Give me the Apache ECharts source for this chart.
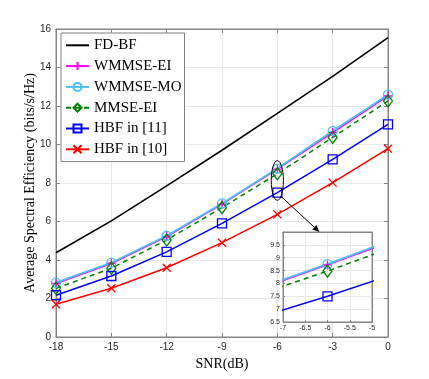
<!DOCTYPE html>
<html>
<head>
    <meta charset="utf-8">
    <title>ECharts</title>
    <script src="https://cdn.jsdelivr.net/npm/echarts@6/dist/echarts.min.js"></script>
</head>
<body style="margin:0;background:#fff">
    <div id="main" style="width: 429px;height:379px;"></div>
    <script type="text/javascript">
        // data
        var snr = [-18, -15, -12, -9, -6, -3, 0];
        var fdbf = [4.38, 6.03, 7.85, 9.7, 11.62, 13.54, 15.55];
        var wmmseEI = [2.78, 3.82, 5.22, 6.9, 8.72, 10.62, 12.52];
        var wmmseMO = [2.82, 3.86, 5.26, 6.94, 8.75, 10.7, 12.59];
        var mmseEI = [2.53, 3.57, 5.04, 6.72, 8.48, 10.37, 12.26];
        var hbf11 = [2.17, 3.17, 4.42, 5.9, 7.5, 9.23, 11.05];
        var hbf10 = [1.7, 2.53, 3.6, 4.9, 6.37, 8.02, 9.78];

        var names = ['FD-BF', 'WMMSE-EI', 'WMMSE-MO', 'MMSE-EI', 'HBF in [11]', 'HBF in [10]'];
        var colors = ['#000000', '#ff00ff', '#4dbeee', '#008000', '#0000ff', '#ff0000'];

        var plusSym = 'path://M5,0 L5,10 M0,5 L10,5';
        var crossSym = 'path://M0,0 L10,10 M10,0 L0,10';

        function pairs(ys) {
            var res = [];
            for (var i = 0; i < snr.length; i++) {
                res.push([snr[i], ys[i]]);
            }
            return res;
        }

        var myChart = echarts.init(document.getElementById('main'));

        var serif = "'Liberation Serif', 'DejaVu Serif', serif";
        var sans = "'Liberation Sans', Arial, sans-serif";

        function mk(name, ys, color, sym, size, width, dashed, inset) {
            return {
                type: 'line',
                name: name,
                data: pairs(ys),
                xAxisIndex: inset ? 2 : 0,
                yAxisIndex: inset ? 2 : 0,
                z: inset ? 8 : 2,
                symbol: sym,
                symbolSize: size,
                showSymbol: sym !== 'none',
                clip: true,
                animation: false,
                lineStyle: { color: color, width: width, type: dashed ? [5, 4] : 'solid' },
                itemStyle: { color: 'none', borderColor: sym === 'none' ? 'none' : color, borderWidth: 1.3 },
                emphasis: { disabled: true }
            };
        }

        function seriesSet(inset) {
            var s = [];
            if (!inset) s.push(mk(names[0], fdbf, colors[0], 'none', 0, 1.6, false, inset));
            s.push(mk(names[1], wmmseEI, colors[1], plusSym, 9, 1.5, false, inset));
            s.push(mk(names[2], wmmseMO, colors[2], 'circle', 9, 1.8, false, inset));
            s.push(mk(names[3], mmseEI, colors[3], 'diamond', [9, 12], 1.5, true, inset));
            s.push(mk(names[4], hbf11, colors[4], 'rect', 9, 1.5, false, inset));
            if (!inset) s.push(mk(names[5], hbf10, colors[5], crossSym, 8, 1.5, false, inset));
            return s;
        }

        var axisLine = { show: true, onZero: false, lineStyle: { color: '#858585', width: 1 } };
        var tickIn = { show: true, inside: true, length: 4, lineStyle: { color: '#858585' } };
        var tickSmall = { show: true, inside: true, length: 2, lineStyle: { color: '#858585' } };
        var split = { show: true, lineStyle: { color: '#e8e8e8', width: 1 } };

        var option = {
            backgroundColor: '#ffffff',
            animation: false,
            grid: [
                { left: 56, top: 29, width: 332, height: 308, show: true, borderColor: '#858585', borderWidth: 1, backgroundColor: 'transparent' },
                { left: 283, top: 232, width: 89, height: 90, show: true, backgroundColor: '#ffffff', borderColor: '#858585', borderWidth: 1, z: 5 }
            ],
            legend: {
                data: names,
                orient: 'vertical',
                left: 61,
                top: 33,
                padding: [2, 3, 2, 4],
                itemGap: 0.2,
                itemWidth: 23,
                itemHeight: 10,
                backgroundColor: '#ffffff',
                borderColor: '#808080',
                borderWidth: 1,
                borderRadius: 0,
                selectedMode: false,
                textStyle: { fontFamily: serif, fontSize: 15, color: '#000', lineHeight: 20.6 }
            },
            xAxis: [
                {
                    type: 'value', gridIndex: 0, min: -18, max: 0, interval: 3,
                    name: 'SNR(dB)', nameLocation: 'middle', nameGap: 18,
                    nameTextStyle: { fontFamily: serif, fontSize: 14, color: '#000' },
                    axisLine: axisLine, axisTick: tickIn, splitLine: split,
                    axisLabel: { fontFamily: sans, fontSize: 10, color: '#262626', margin: 5 }
                },
                {
                    type: 'value', gridIndex: 0, position: 'top', min: -18, max: 0, interval: 3,
                    axisLine: axisLine, axisTick: tickIn, splitLine: { show: false }, axisLabel: { show: false }
                },
                {
                    type: 'value', gridIndex: 1, min: -7, max: -5, interval: 0.5, z: 6,
                    axisLine: axisLine, axisTick: tickSmall, splitLine: split,
                    axisLabel: { fontFamily: sans, fontSize: 7, color: '#262626', margin: 3 }
                },
                {
                    type: 'value', gridIndex: 1, position: 'top', min: -7, max: -5, interval: 0.5, z: 6,
                    axisLine: axisLine, axisTick: { show: false }, splitLine: { show: false }, axisLabel: { show: false }
                }
            ],
            yAxis: [
                {
                    type: 'value', gridIndex: 0, min: 0, max: 16, interval: 2,
                    name: 'Average Spectral Efficiency (bits/s/Hz)', nameLocation: 'middle', nameGap: 19,
                    nameMoveOverlap: false,
                    nameTextStyle: { fontFamily: serif, fontSize: 14, color: '#000' },
                    axisLine: axisLine, axisTick: tickIn, splitLine: split,
                    axisLabel: { fontFamily: sans, fontSize: 10, color: '#262626', margin: 5 }
                },
                {
                    type: 'value', gridIndex: 0, position: 'right', min: 0, max: 16, interval: 2,
                    axisLine: axisLine, axisTick: tickIn, splitLine: { show: false }, axisLabel: { show: false }
                },
                {
                    type: 'value', gridIndex: 1, min: 6.5, max: 10, interval: 0.5, z: 6,
                    axisLine: axisLine, axisTick: tickSmall, splitLine: split,
                    axisLabel: { fontFamily: sans, fontSize: 7, color: '#262626', margin: 3, showMaxLabel: false }
                },
                {
                    type: 'value', gridIndex: 1, position: 'right', min: 6.5, max: 10, interval: 0.5, z: 6,
                    axisLine: axisLine, axisTick: { show: false }, splitLine: { show: false }, axisLabel: { show: false }
                }
            ],
            series: seriesSet(false).concat(seriesSet(true))
        };

        myChart.setOption(option);

        // ellipse around the -6 dB points and the arrow pointing to the zoomed view
        var c = myChart.convertToPixel({ gridIndex: 0 }, [-6, 8.13]);
        var e = myChart.convertToPixel({ gridIndex: 0 }, [-5.67, 7.1]);
        var p0 = myChart.convertToPixel({ gridIndex: 0 }, [-5.77, 7.28]);
        var p1 = myChart.convertToPixel({ gridIndex: 1 }, [-6.18, 10]);
        var rx = e[0] - c[0];
        var ry = c[1] - e[1];
        var ang = Math.atan2(p1[1] - p0[1], p1[0] - p0[0]);
        var hl = 7, hw = 3;
        var bx = p1[0] - hl * Math.cos(ang), by = p1[1] - hl * Math.sin(ang);
        var head = [
            [p1[0], p1[1]],
            [bx + hw * Math.sin(ang), by - hw * Math.cos(ang)],
            [bx - hw * Math.sin(ang), by + hw * Math.cos(ang)]
        ];

        myChart.setOption({
            graphic: [
                {
                    type: 'ellipse', z: 20,
                    shape: { cx: c[0], cy: c[1], rx: rx, ry: ry },
                    style: { fill: 'none', stroke: '#000', lineWidth: 1 }
                },
                {
                    type: 'line', z: 20,
                    shape: { x1: p0[0], y1: p0[1], x2: bx, y2: by },
                    style: { stroke: '#000', lineWidth: 1 }
                },
                {
                    type: 'polygon', z: 20,
                    shape: { points: head },
                    style: { fill: '#000' }
                }
            ]
        });
    </script>
</body>
</html>
